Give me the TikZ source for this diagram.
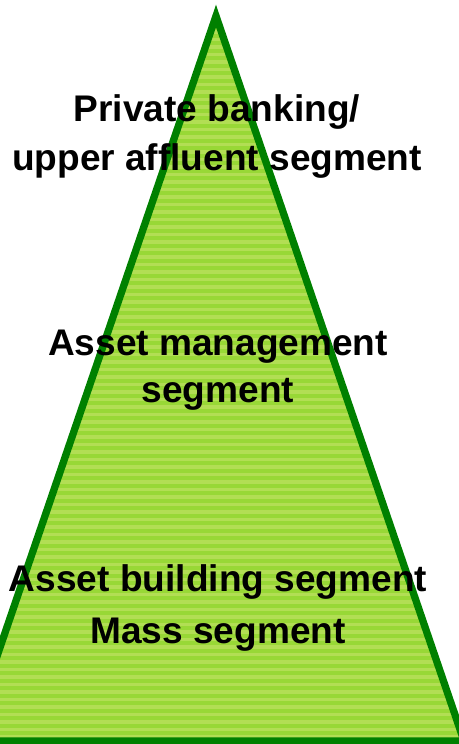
\documentclass[tikz,border=0pt]{standalone}
\usepackage{fontspec}
\setmainfont{Liberation Sans}
\usepackage{tikz}
\usepackage{xcolor}
\usetikzlibrary{positioning}

\definecolor{edgegreen}{RGB}{0,128,0}
\definecolor{lightband}{RGB}{178,222,84}
\definecolor{darkband}{RGB}{152,216,54}

\begin{document}
\begin{tikzpicture}[x=0.02cm,y=-0.02cm,
	seg/.style={anchor=base,inner sep=0pt,font=\fontsize{21.1}{25}\selectfont\bfseries}]
	\useasboundingbox (0,0) rectangle (459,744);
	\clip (0,0) rectangle (459,744);
	\coordinate (top) at (216,16);
	\coordinate (bl) at (-32,741);
	\coordinate (br) at (464,741);

	% striped filling
	\begin{scope}
		\clip (top) -- (bl) -- (br) -- cycle;
		\fill[darkband] (-40,0) rectangle (480,750);
		\foreach \y in {0,7.5,...,750}
			\fill[lightband] (-40,\y) rectangle (480,\y+3.6);
	\end{scope}
	\draw[edgegreen,line width=7.3*0.02cm,line join=miter] (top) -- (bl) -- (br) -- cycle;

	\node[seg] (pb1) at (217,121.7) {Private banking/};
	\node[seg] (pb2) at (217,170) {upper affluent segment};
	\node[seg] (am1) at (218,355) {Asset management};
	\node[seg] (am2) at (218,402) {segment};
	\node[seg] (ab1) at (218,591) {Asset building segment};
	\node[seg] (ms1) at (218,643) {Mass segment};
\end{tikzpicture}
\end{document}
